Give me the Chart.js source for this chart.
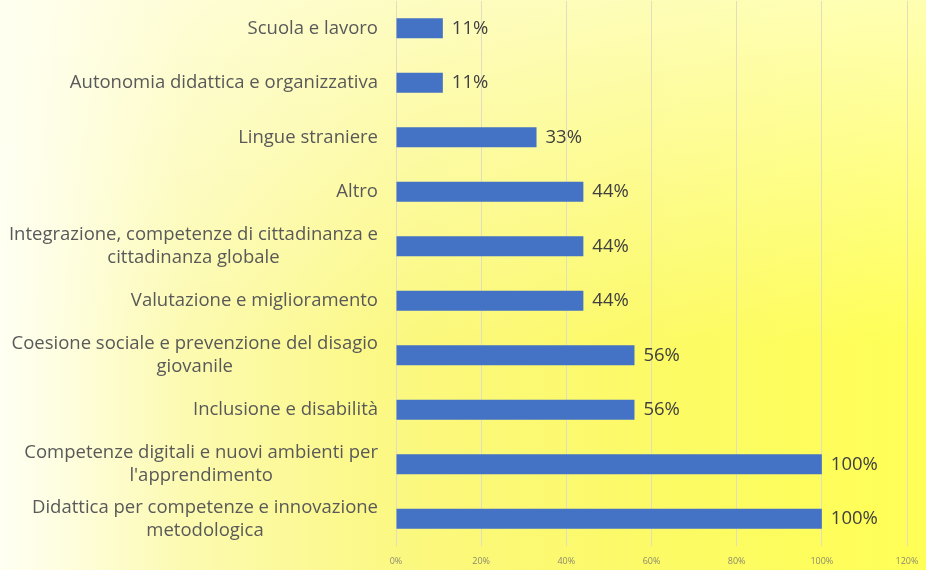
<!DOCTYPE html>
<html>
<head>
<meta charset="utf-8">
<script src="https://cdn.jsdelivr.net/npm/chart.js@4/dist/chart.umd.min.js"></script>
<style>
  html, body { margin: 0; padding: 0; background: #ffffff; }
  #wrap { width: 926px; height: 570px; position: relative; }
</style>
</head>
<body>
<div id="wrap"><canvas id="c" width="926" height="570"></canvas></div>
<script>
const categories = [
  ["Scuola e lavoro"],
  ["Autonomia didattica e organizzativa"],
  ["Lingue straniere"],
  ["Altro"],
  ["Integrazione, competenze di cittadinanza e", "cittadinanza globale"],
  ["Valutazione e miglioramento"],
  ["Coesione sociale e prevenzione del disagio", "giovanile"],
  ["Inclusione e disabilità"],
  ["Competenze digitali e nuovi ambienti per", "l'apprendimento"],
  ["Didattica per competenze e innovazione", "metodologica"]
];
const values = [11, 11, 33, 44, 44, 44, 56, 56, 100, 100];
const valueLabels = ["11%", "11%", "33%", "44%", "44%", "44%", "56%", "56%", "100%", "100%"];
const xTickLabels = ["0%", "20%", "40%", "60%", "80%", "100%", "120%"];

const LABEL_FONT = '18.5px "Open Sans", sans-serif';

const bgPlugin = {
  id: 'bg',
  beforeDraw(chart) {
    const ctx = chart.ctx, w = chart.width, h = chart.height;
    ctx.save();
    const g = ctx.createLinearGradient(0, 0, w, 0);
    g.addColorStop(0, '#fffff3');
    g.addColorStop(0.06, '#fefee2');
    g.addColorStop(0.2, '#fcfab0');
    g.addColorStop(0.45, '#fbf87e');
    g.addColorStop(0.7, '#fcfa66');
    g.addColorStop(1, '#ffff56');
    ctx.fillStyle = g;
    ctx.fillRect(0, 0, w, h);
    const v = ctx.createLinearGradient(0, 0, 0, h * 0.6);
    v.addColorStop(0, 'rgba(255,255,238,0.6)');
    v.addColorStop(1, 'rgba(255,255,238,0)');
    ctx.fillStyle = v;
    ctx.fillRect(0, 0, w, h * 0.6);
    ctx.restore();
  }
};

const labelPlugin = {
  id: 'labels',
  afterDatasetsDraw(chart) {
    const ctx = chart.ctx;
    const yScale = chart.scales.y;
    const xScale = chart.scales.x;
    const meta = chart.getDatasetMeta(0);
    ctx.save();
    ctx.font = LABEL_FONT;
    ctx.textBaseline = 'middle';
    const lineH = 23;
    const rightEdge = xScale.left - 18;
    categories.forEach((lines, i) => {
      const yc = yScale.getPixelForValue(i);
      let widest = 0;
      lines.forEach(l => { widest = Math.max(widest, ctx.measureText(l).width); });
      const cx = rightEdge - widest / 2;
      ctx.fillStyle = '#595959';
      ctx.textAlign = 'center';
      const y0 = yc - (lines.length - 1) * lineH / 2;
      lines.forEach((l, k) => ctx.fillText(l, cx, y0 + k * lineH));
    });
    ctx.fillStyle = '#404040';
    ctx.textAlign = 'left';
    meta.data.forEach((bar, i) => {
      ctx.fillText(valueLabels[i], bar.x + 9, bar.y);
    });
    ctx.restore();
  }
};

new Chart(document.getElementById('c'), {
  type: 'bar',
  data: {
    labels: categories,
    datasets: [{
      data: values,
      backgroundColor: '#4472C4',
      borderWidth: 0,
      barPercentage: 0.37,
      categoryPercentage: 1.0
    }]
  },
  options: {
    indexAxis: 'y',
    responsive: false,
    animation: false,
    devicePixelRatio: 1,
    layout: { padding: { top: 1, right: 19, left: 0, bottom: 0 } },
    plugins: { legend: { display: false }, tooltip: { enabled: false } },
    scales: {
      x: {
        min: 0, max: 120,
        ticks: {
          stepSize: 20,
          padding: 10,
          color: '#8c8a6e',
          font: { family: '"Open Sans", sans-serif', size: 9 },
          callback: (v, i) => xTickLabels[i]
        },
        grid: { color: '#e2ddc0', lineWidth: 1, drawTicks: false },
        border: { display: false },
        afterFit(scale) { scale.height = 24; scale.paddingRight = 0; scale.paddingLeft = 0; }
      },
      y: {
        ticks: { display: false },
        grid: { display: false },
        border: { display: false },
        afterFit(scale) { scale.width = 396; }
      }
    }
  },
  plugins: [bgPlugin, labelPlugin]
});
</script>
</body>
</html>
